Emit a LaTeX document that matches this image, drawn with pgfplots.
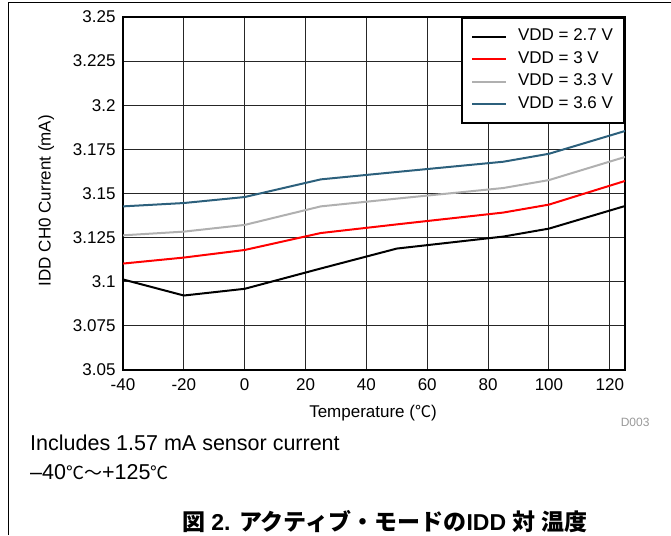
\documentclass[border=0pt]{standalone}
\usepackage{fontspec}
\setmainfont{Liberation Sans}
\newfontfamily\cjk{Noto Sans CJK JP}
\usepackage{pgfplots}
\pgfplotsset{compat=1.18}
\definecolor{vblue}{RGB}{44,96,124}
\definecolor{vgray}{RGB}{176,176,176}
\definecolor{vred}{RGB}{255,0,0}
\begin{document}
\begin{tikzpicture}[x=1pt,y=1pt]
\useasboundingbox (0,0) rectangle (671,535);
\draw[line width=1pt] (8,0) -- (8,532) -- (671,532);
\begin{axis}[
  at={(123pt,165pt)}, anchor=south west,
  scale only axis, width=502pt, height=353pt,
  xmin=-40, xmax=125, ymin=3.05, ymax=3.25,
  xtick={-40,-20,0,20,40,60,80,100,120},
  xticklabels={-40,-20,0,20,40,60,80,100,120},
  ytick={3.05,3.075,3.1,3.125,3.15,3.175,3.2,3.225,3.25},
  yticklabels={3.05,3.075,3.1,3.125,3.15,3.175,3.2,3.225,3.25},
  grid=major, grid style={line width=0.9pt, black!85},
  axis line style={line width=2.2pt},
  major tick length=0pt,
  ticklabel style={font=\fontsize{17}{20}\selectfont},
  xticklabel style={yshift=-5pt},
  yticklabel style={xshift=-4pt},
  xlabel={Temperature ({\cjk\fontsize{16}{20}\selectfont ℃})},
  ylabel={IDD CH0 Current (mA)},
  label style={font=\fontsize{17}{20}\selectfont},
  xlabel style={at={(axis description cs:0.498,-0.123)}, anchor=center},
  ylabel style={at={(axis description cs:-0.153,0.48)}, anchor=center, rotate=0},
  legend style={at={(1,1)}, anchor=north east, draw=black, line width=2pt,
    font=\fontsize{17}{20}\selectfont, inner xsep=9pt, inner ysep=7.5pt,
    row sep=0pt, column sep=9pt, cells={anchor=west},
    nodes={inner ysep=2.5pt, text height=13pt, text depth=4.5pt}},
  legend image code/.code={\draw[#1] (0pt,0pt) -- (34pt,0pt);},
  clip=true,
]
\addplot[black, line width=2pt] coordinates {(-40,3.1013) (-20,3.0922) (0,3.096) (25,3.1075) (50,3.1188) (85,3.1256) (100,3.1301) (125,3.1429)};
\addlegendentry{VDD = 2.7 V}
\addplot[vred, line width=2pt] coordinates {(-40,3.1103) (-20,3.1137) (0,3.118) (25,3.1276) (50,3.1325) (85,3.1392) (100,3.1437) (125,3.1571)};
\addlegendentry{VDD = 3 V}
\addplot[vgray, line width=2pt] coordinates {(-40,3.1263) (-20,3.1284) (0,3.1322) (25,3.1427) (50,3.1471) (85,3.1531) (100,3.1576) (125,3.1707)};
\addlegendentry{VDD = 3.3 V}
\addplot[vblue, line width=2pt] coordinates {(-40,3.1427) (-20,3.1446) (0,3.148) (25,3.158) (50,3.1622) (85,3.168) (100,3.1725) (125,3.1854)};
\addlegendentry{VDD = 3.6 V}
\end{axis}
\node[anchor=east, text=black!40, font=\fontsize{12}{14}\selectfont] at (653,113) {D003};
\node[anchor=west, font=\fontsize{21.5}{24}\selectfont, inner sep=0pt] at (30,92) {Includes 1.57 mA sensor current};
\node[anchor=west, font=\fontsize{21.5}{24}\selectfont, inner sep=0pt] at (30,63) {–40{\cjk\fontsize{18}{20}\selectfont ℃～}+125{\cjk\fontsize{18}{20}\selectfont ℃}};
\node[anchor=center, font=\bfseries\fontsize{23}{26}\selectfont, inner sep=0pt] at (385,13) {{\cjk 図} 2. {\cjk アクティブ・モードの}IDD {\cjk 対} {\cjk 温度}};
\end{tikzpicture}
\end{document}
